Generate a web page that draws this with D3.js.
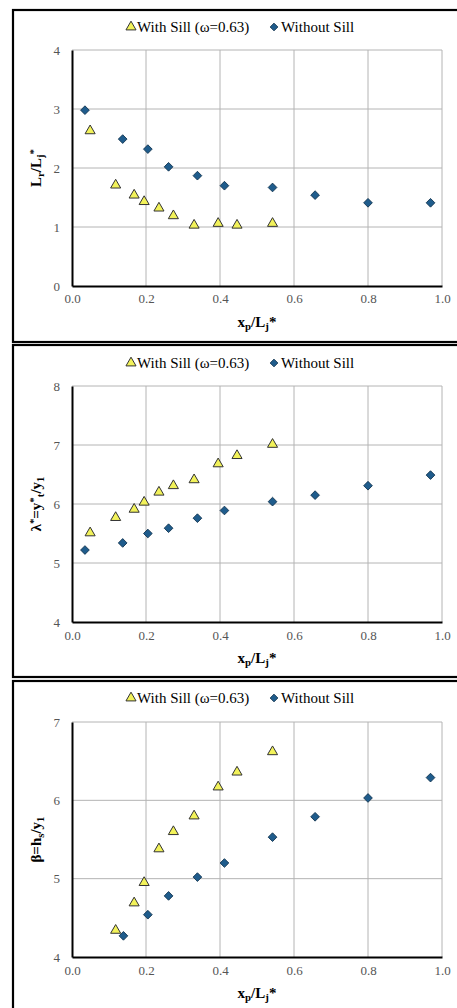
<!DOCTYPE html>
<html><head><meta charset="utf-8">
<script src="https://cdn.jsdelivr.net/npm/d3@7/dist/d3.min.js"></script>
<style>body{margin:0;background:#fff}svg{display:block}text{font-family:"Liberation Serif","Times New Roman",serif}</style>
</head><body>
<script>
// ---- DATA ----
const xTicks = [0.0, 0.2, 0.4, 0.6, 0.8, 1.0];
const legendLabels = ["With Sill (\u03C9=0.63)", "Without Sill"];

// Panel 1: Lr/Lj*
const p1WithX    = [0.049, 0.118, 0.168, 0.195, 0.235, 0.274, 0.330, 0.395, 0.446, 0.542];
const p1WithY    = [2.63, 1.71, 1.54, 1.43, 1.32, 1.19, 1.03, 1.06, 1.03, 1.06];
const p1WithoutX = [0.035, 0.137, 0.205, 0.261, 0.339, 0.412, 0.542, 0.657, 0.800, 0.969];
const p1WithoutY = [2.98, 2.49, 2.32, 2.02, 1.87, 1.70, 1.67, 1.54, 1.41, 1.41];
const p1YTicks   = [0, 1, 2, 3, 4];

// Panel 2: lambda* = yt*/y1
const p2WithX    = [0.049, 0.118, 0.168, 0.195, 0.235, 0.274, 0.330, 0.395, 0.446, 0.542];
const p2WithY    = [5.51, 5.77, 5.91, 6.03, 6.20, 6.31, 6.41, 6.68, 6.82, 7.01];
const p2WithoutX = [0.035, 0.137, 0.205, 0.261, 0.339, 0.412, 0.542, 0.657, 0.800, 0.969];
const p2WithoutY = [5.22, 5.34, 5.50, 5.59, 5.76, 5.89, 6.04, 6.15, 6.31, 6.49];
const p2YTicks   = [4, 5, 6, 7, 8];

// Panel 3: beta = hs/y1
const p3WithX    = [0.118, 0.168, 0.195, 0.235, 0.274, 0.330, 0.395, 0.446, 0.542];
const p3WithY    = [4.34, 4.69, 4.95, 5.38, 5.60, 5.80, 6.17, 6.36, 6.62];
const p3WithoutX = [0.139, 0.205, 0.261, 0.339, 0.412, 0.542, 0.657, 0.800, 0.969];
const p3WithoutY = [4.27, 4.54, 4.78, 5.02, 5.20, 5.53, 5.79, 6.03, 6.29];
const p3YTicks   = [4, 5, 6, 7];

// ---- DRAW ----
const W = 457, H = 1008;
const FONT = '"Liberation Serif","Times New Roman",serif';
const svg = d3.select("body").append("svg").attr("width", W).attr("height", H);

const panels = [
  {box:[10, 342], plot:[50, 286], yDom:[0,4], yTicks:p1YTicks, legendY:27, xLabY:304, xTitleY:327,
   withX:p1WithX, withY:p1WithY, woX:p1WithoutX, woY:p1WithoutY,
   ytitle:[["L",""],["r","sub"],["/L",""],["j","sub"],["*","sup"]]},
  {box:[345, 677], plot:[386, 622], yDom:[4,8], yTicks:p2YTicks, legendY:363, xLabY:641, xTitleY:663,
   withX:p2WithX, withY:p2WithY, woX:p2WithoutX, woY:p2WithoutY,
   ytitle:[["\u03BB",""],["*","sup"],["=y",""],["*","sup"],["t","sub"],["/y",""],["1","sub"]]},
  {box:[681, 1030], plot:[722, 957], yDom:[4,7], yTicks:p3YTicks, legendY:698, xLabY:976, xTitleY:998,
   withX:p3WithX, withY:p3WithY, woX:p3WithoutX, woY:p3WithoutY,
   ytitle:[["\u03B2=h",""],["s","sub"],["/y",""],["1","sub"]]}
];

const xL = 72, xR = 442;
const triColor = "#f2f25a", diaColor = "#1f5c8c";
const tri = d3.symbol().type(d3.symbolTriangle).size(44);
const dia = d3.symbol().type(d3.symbolSquare).size(38);

function richText(g, parts, size){
  parts.forEach(([t, kind]) => {
    const ts = g.append("tspan").text(t);
    if (kind === "sub") ts.attr("baseline-shift", "-25%").attr("font-size", size*0.72);
    if (kind === "sup") ts.attr("baseline-shift", "40%").attr("font-size", size*0.72);
  });
}

panels.forEach(p => {
  const g = svg.append("g");
  g.append("rect").attr("x", 13).attr("y", p.box[0]).attr("width", 470).attr("height", p.box[1]-p.box[0])
    .attr("fill", "#fff").attr("stroke", "#000").attr("stroke-width", 2.2);

  const x = d3.scaleLinear().domain([0, 1]).range([xL, xR]);
  const y = d3.scaleLinear().domain(p.yDom).range([p.plot[1], p.plot[0]]);

  g.append("g").selectAll("line").data(xTicks.slice(1)).join("line")
    .attr("x1", d => x(d)).attr("x2", d => x(d)).attr("y1", p.plot[0]).attr("y2", p.plot[1])
    .attr("stroke", "#b4b4b4").attr("stroke-width", 1);
  g.append("g").selectAll("line").data(p.yTicks.slice(1)).join("line")
    .attr("x1", xL).attr("x2", xR).attr("y1", d => y(d)).attr("y2", d => y(d))
    .attr("stroke", "#b4b4b4").attr("stroke-width", 1);

  const xAxis = d3.axisBottom(x).tickValues(xTicks).tickFormat(d3.format(".1f")).tickSize(0);
  const ax = g.append("g").attr("transform", `translate(0,${p.plot[1]})`).call(xAxis)
    .attr("font-family", null).attr("font-size", null);
  ax.select(".domain").attr("stroke", "#000").attr("stroke-width", 2);
  ax.selectAll("text").attr("y", p.xLabY - p.plot[1] - 10).attr("dy", "0.71em")
    .style("font-size", "13px").style("fill", "#555").style("font-family", FONT);
  const yAxis = d3.axisLeft(y).tickValues(p.yTicks).tickFormat(d3.format("d")).tickSize(0);
  const ay = g.append("g").attr("transform", `translate(${xL},0)`).call(yAxis)
    .attr("font-family", null).attr("font-size", null);
  ay.select(".domain").attr("stroke", "#000").attr("stroke-width", 2);
  ay.selectAll("text").attr("x", -12)
    .style("font-size", "13px").style("fill", "#555").style("font-family", FONT);

  g.append("g").selectAll("path").data(p.woX.map((v,i)=>[v, p.woY[i]])).join("path")
    .attr("d", dia).attr("transform", d => `translate(${x(d[0])},${y(d[1])}) rotate(45)`)
    .attr("fill", diaColor).attr("stroke", "#0d2f4a").attr("stroke-width", 0.8);
  g.append("g").selectAll("path").data(p.withX.map((v,i)=>[v, p.withY[i]])).join("path")
    .attr("d", tri).attr("transform", d => `translate(${x(d[0])},${y(d[1])})`)
    .attr("fill", triColor).attr("stroke", "#333").attr("stroke-width", 1);

  const lg = g.append("g");
  lg.append("path").attr("d", tri).attr("transform", `translate(131,${p.legendY})`)
    .attr("fill", triColor).attr("stroke", "#333").attr("stroke-width", 1);
  lg.append("text").attr("x", 137).attr("y", p.legendY + 5).attr("font-size", 15).text(legendLabels[0]);
  lg.append("path").attr("d", d3.symbol().type(d3.symbolSquare).size(30))
    .attr("transform", `translate(274,${p.legendY}) rotate(45)`)
    .attr("fill", diaColor).attr("stroke", "#0d2f4a").attr("stroke-width", 0.8);
  lg.append("text").attr("x", 281).attr("y", p.legendY + 5).attr("font-size", 15).text(legendLabels[1]);

  const xt = g.append("text").attr("x", (xL+xR)/2).attr("y", p.xTitleY).attr("text-anchor", "middle")
    .attr("font-size", 15).attr("font-weight", "bold");
  richText(xt, [["x",""],["p","sub"],["/L",""],["j","sub"],["*",""]], 15);

  const cy = (p.plot[0]+p.plot[1])/2;
  const yt = g.append("text").attr("transform", `translate(41,${cy}) rotate(-90)`).attr("text-anchor", "middle")
    .attr("font-size", 15).attr("font-weight", "bold");
  richText(yt, p.ytitle, 15);
});
</script>
</body></html>
